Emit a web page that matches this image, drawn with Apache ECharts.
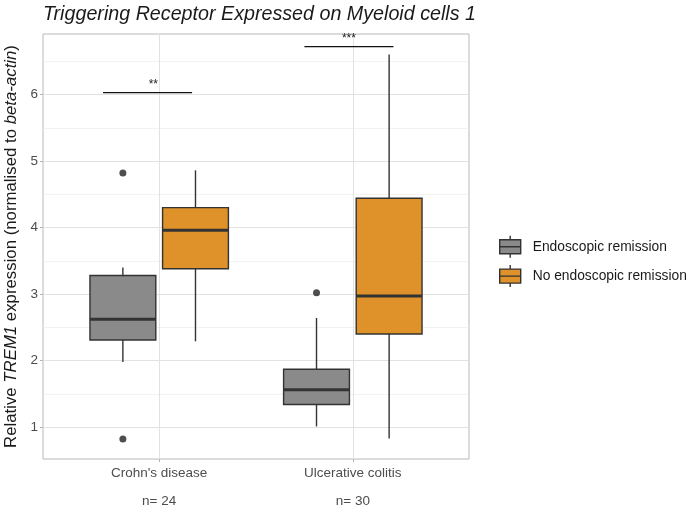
<!DOCTYPE html>
<html>
<head>
<meta charset="utf-8">
<script src="https://cdn.jsdelivr.net/npm/echarts@6/dist/echarts.min.js"></script>
<style>
  html, body { margin: 0; padding: 0; background: #fff; }
  #main { width: 689px; height: 511px; }
</style>
</head>
<body>
<div id="main"></div>
<script>
const categories = ["Crohn's disease", 'Ulcerative colitis']
const sampleSizes = ['n= 24', 'n= 30']
const groups = ['Endoscopic remission', 'No endoscopic remission']
// [lower whisker, Q1, median, Q3, upper whisker], one row per category
const remissionStats = [[1.98, 2.31, 2.62, 3.28, 3.40], [1.01, 1.34, 1.56, 1.87, 2.64]]
const noRemissionStats = [[2.29, 3.38, 3.96, 4.30, 4.86], [0.83, 2.40, 2.97, 4.44, 6.60]]
// outliers: [category index, value]
const remissionOutliers = [[0, 4.82], [0, 0.82], [1, 3.02]]
const noRemissionOutliers = []
// significance markers
const sigLabels = ['**', '***']
const sigHeights = [6.03, 6.72]
const yTicks = [1, 2, 3, 4, 5, 6]

const FONT = '"Liberation Sans", Arial, sans-serif'
const DODGE = 0.1875
const HALF_W = 0.17
const BORDER = '#333333'
const colors = ['#8a8a8a', '#df9229']
// bracket span relative to category centre, and label x offset
const bracketSpan = [[-0.29, 0.17], [-0.25, 0.21]]
const labelShift = [-0.03, -0.02]

const chart = echarts.init(document.getElementById('main'))

function boxSeries(name, stats, color, offset) {
  return {
    name: name,
    type: 'custom',
    z: 3,
    itemStyle: { color: color },
    data: stats.map((s, i) => [i + 1 + offset].concat(s)),
    encode: { x: 0, y: [1, 2, 3, 4, 5] },
    renderItem: function (params, api) {
      const x = api.value(0)
      const lo = api.value(1), q1 = api.value(2), med = api.value(3), q3 = api.value(4), hi = api.value(5)
      const tl = api.coord([x - HALF_W, q3])
      const br = api.coord([x + HALF_W, q1])
      const pLo = api.coord([x, lo]), pQ1 = api.coord([x, q1])
      const pQ3 = api.coord([x, q3]), pHi = api.coord([x, hi])
      const mL = api.coord([x - HALF_W, med]), mR = api.coord([x + HALF_W, med])
      const ls = { stroke: BORDER, lineWidth: 1.4 }
      return {
        type: 'group',
        children: [
          { type: 'line', shape: { x1: pLo[0], y1: pLo[1], x2: pQ1[0], y2: pQ1[1] }, style: ls },
          { type: 'line', shape: { x1: pQ3[0], y1: pQ3[1], x2: pHi[0], y2: pHi[1] }, style: ls },
          { type: 'rect', shape: { x: tl[0], y: tl[1], width: br[0] - tl[0], height: br[1] - tl[1] },
            style: { fill: color, stroke: BORDER, lineWidth: 1.4 } },
          { type: 'line', shape: { x1: mL[0], y1: mL[1], x2: mR[0], y2: mR[1] },
            style: { stroke: BORDER, lineWidth: 3 } }
        ]
      }
    }
  }
}

function outlierSeries(name, points, offset) {
  return {
    name: name,
    type: 'scatter',
    z: 4,
    symbolSize: 7,
    itemStyle: { color: '#222222' },
    data: points.map(p => [p[0] + 1 + offset, p[1]])
  }
}

const sigSeries = {
  type: 'custom',
  z: 4,
  silent: true,
  data: sigHeights.map((h, i) => [i + 1, h]),
  renderItem: function (params, api) {
    const i = params.dataIndex
    const c = api.value(0), h = api.value(1)
    const a = api.coord([c + bracketSpan[i][0], h])
    const b = api.coord([c + bracketSpan[i][1], h])
    const t = api.coord([c + labelShift[i], h])
    return {
      type: 'group',
      children: [
        { type: 'line', shape: { x1: a[0], y1: a[1], x2: b[0], y2: b[1] }, style: { stroke: '#111', lineWidth: 1.2 } },
        { type: 'text', x: t[0], y: t[1] - 2,
          style: { text: sigLabels[i], fill: '#222', font: '12px ' + FONT, align: 'center', verticalAlign: 'bottom' } }
      ]
    }
  }
}

const legendIcon = 'path://M0,4H21V18H0Z M10.5,0V4 M10.5,18V22 M0,11H21'

const option = {
  animation: false,
  title: {
    text: 'Triggering Receptor Expressed on Myeloid cells 1',
    left: 38,
    top: 0,
    textStyle: { fontFamily: FONT, fontStyle: 'italic', fontWeight: 'normal', fontSize: 19.7, color: '#1a1a1a' }
  },
  legend: {
    orient: 'vertical',
    left: 499,
    top: 235,
    padding: 0,
    itemWidth: 21,
    itemHeight: 22,
    itemGap: 6,
    data: groups.map(g => ({ name: g, icon: legendIcon })),
    itemStyle: { borderColor: BORDER, borderWidth: 1.4 },
    textStyle: { fontFamily: FONT, fontSize: 13.8, color: '#1a1a1a', padding: [0, 0, 0, 7] }
  },
  grid: {
    left: 43, right: 220, top: 34, bottom: 52,
    containLabel: false, outerBoundsMode: 'none',
    show: true, borderColor: '#b8b8b8', borderWidth: 1
  },
  xAxis: {
    type: 'value',
    min: 0.4,
    max: 2.6,
    axisLine: { show: false },
    splitLine: { show: false },
    axisTick: { show: true, length: 3, lineStyle: { color: '#b3b3b3' }, customValues: [1, 2] },
    axisLabel: {
      customValues: [1, 2],
      margin: 7,
      fontFamily: FONT,
      fontSize: 13.5,
      lineHeight: 14,
      color: '#4d4d4d',
      formatter: v => categories[Math.round(v) - 1] + '\n\n' + sampleSizes[Math.round(v) - 1]
    }
  },
  yAxis: {
    type: 'value',
    min: 0.52,
    max: 6.91,
    name: '{n|Relative }{i|TREM1}{n| expression (normalised to }{i|beta-actin}{n|)}',
    nameLocation: 'middle',
    nameGap: 18,
    nameTextStyle: {
      rich: {
        n: { fontFamily: FONT, fontSize: 16.8, color: '#1a1a1a' },
        i: { fontFamily: FONT, fontSize: 16.8, color: '#1a1a1a', fontStyle: 'italic' }
      }
    },
    axisLine: { show: false },
    axisTick: { show: true, length: 3, lineStyle: { color: '#b3b3b3' }, customValues: yTicks },
    axisLabel: { customValues: yTicks, margin: 5, fontFamily: FONT, fontSize: 13.5, color: '#4d4d4d' },
    splitLine: { lineStyle: { color: '#e2e2e2', width: 1 } },
    minorTick: { show: false, splitNumber: 2 },
    minorSplitLine: { show: true, lineStyle: { color: '#efefef', width: 0.8 } }
  },
  series: [
    Object.assign(boxSeries(groups[0], remissionStats, colors[0], -DODGE), {
      markLine: {
        silent: true,
        symbol: 'none',
        z: 1,
        label: { show: false },
        lineStyle: { color: '#e2e2e2', width: 1, type: 'solid' },
        data: [{ xAxis: 1 }, { xAxis: 2 }]
      }
    }),
    boxSeries(groups[1], noRemissionStats, colors[1], DODGE),
    outlierSeries(groups[0], remissionOutliers, -DODGE),
    outlierSeries(groups[1], noRemissionOutliers, DODGE),
    sigSeries
  ]
}

chart.setOption(option)
</script>
</body>
</html>
